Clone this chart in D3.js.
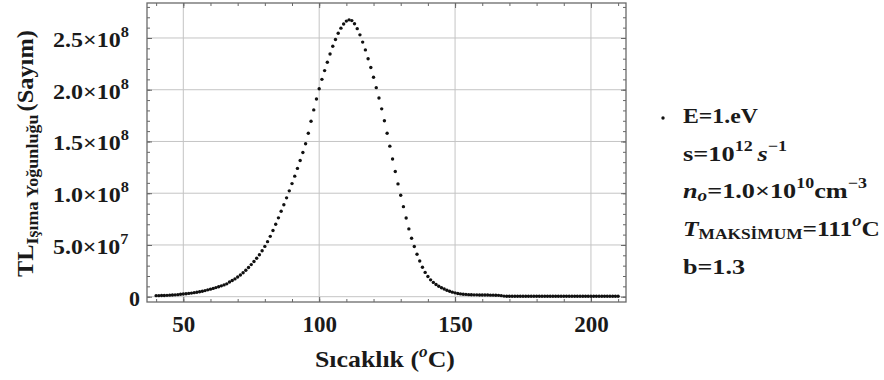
<!DOCTYPE html>
<html><head><meta charset="utf-8">
<script src="https://cdn.jsdelivr.net/npm/d3@7"></script>
<style>
body{margin:0;background:#fff}
svg text{font-family:"Liberation Serif","Times New Roman",Times,serif !important;font-weight:bold;fill:#1a1a1a}
</style>
</head><body><svg id="c" width="884" height="380"></svg>
<script>
// Temperatures (°C)
const temperatures = [
40,41,42,43,44,45,46,47,48,49,50,51,52,53,54,55,56,57,58,59,
60,61,62,63,64,65,66,67,68,69,70,71,72,73,74,75,76,77,78,79,
80,81,82,83,84,85,86,87,88,89,90,91,92,93,94,95,96,97,98,99,
100,101,102,103,104,105,106,107,108,109,110,111,112,113,114,115,116,117,118,119,
120,121,122,123,124,125,126,127,128,129,130,131,132,133,134,135,136,137,138,139,
140,141,142,143,144,145,146,147,148,149,150,151,152,153,154,155,156,157,158,159,
160,161,162,163,164,165,166,167,168,169,170,171,172,173,174,175,176,177,178,179,
180,181,182,183,184,185,186,187,188,189,190,191,192,193,194,195,196,197,198,199,
200,201,202,203,204,205,206,207,208,209,210];
// TL intensity (counts, in millions)
const tlIntensityMillions = [
1.0,1.0,1.1,1.2,1.3,1.5,1.6,1.8,2.0,2.3,2.6,2.9,3.2,3.5,3.9,4.3,4.8,5.3,5.9,6.6,
7.3,8.0,8.8,9.6,10.5,11.4,12.4,14.2,15.6,17.2,19.0,21.0,23.2,25.6,28.2,31.0,34.0,37.2,40.6,44.4,
48.6,53.2,58.3,64.0,70.0,76.2,82.5,88.9,95.5,102.3,109.3,116.5,124.0,131.6,139.4,147.8,158.0,169.5,180.5,191.0,
201.0,210.0,218.5,226.5,234.5,242.0,248.5,254.5,259.5,263.5,266.3,267.5,266.8,263.8,259.0,253.0,246.0,238.5,230.0,221.5,
212.0,202.0,192.0,181.5,170.0,158.0,145.5,133.0,121.0,109.0,98.0,87.0,76.0,65.5,56.5,48.5,41.0,34.5,28.5,23.5,
19.5,16.3,13.8,11.8,10.1,8.7,7.4,6.3,5.3,4.4,3.7,3.1,2.7,2.4,2.2,2.0,1.9,1.8,1.8,1.7,
1.7,1.6,1.6,1.5,1.5,1.4,1.3,1.0,0.6,0.5,0.4,0.4,0.4,0.4,0.4,0.4,0.4,0.4,0.4,0.4,
0.4,0.4,0.4,0.4,0.4,0.4,0.4,0.4,0.4,0.4,0.4,0.4,0.4,0.4,0.4,0.4,0.4,0.4,0.4,0.4,
0.4,0.4,0.4,0.4,0.4,0.4,0.4,0.4,0.4,0.4,0.4];
const xTickValues = [50,100,150,200];
const xTickLabels = ["50","100","150","200"];
const xMinorTicks = [40,50,60,70,80,90,100,110,120,130,140,150,160,170,180,190,200,210];
const yTickValues = [0,5e7,1e8,1.5e8,2e8,2.5e8];
const yTickMantissas = ["0","5.0","1.0","1.5","2.0","2.5"];
const yTickExponents = ["","7","8","8","8","8"];
const yMinorTicks = [0,1e7,2e7,3e7,4e7,5e7,6e7,7e7,8e7,9e7,1e8,1.1e8,1.2e8,1.3e8,1.4e8,1.5e8,1.6e8,1.7e8,1.8e8,1.9e8,2e8,2.1e8,2.2e8,2.3e8,2.4e8,2.5e8,2.6e8,2.7e8,2.8e8];

const FONT = '"Liberation Serif","Times New Roman",Times,serif';
const data = temperatures.map((t,i)=>({t, v: tlIntensityMillions[i]*1e6}));

const svg = d3.select("#c").attr("font-family",FONT);
const L=147, R=626, T=3, B=302;
const x = d3.scaleLinear().domain([36.64,212.9]).range([L,R]);
const y = d3.scaleLinear().domain([-5.12e6,2.838e8]).range([B,T]);

// stretch a text horizontally so that it spans [left, left+width]
function fitX(sel, left, width){
  const b = sel.node().getBBox();
  sel.attr("transform",`translate(${left},0) scale(${width/b.width},1) translate(${-b.x},0)`);
}

// grid
const g = svg.append("g");
g.selectAll(".gx").data(xTickValues).join("line")
  .attr("x1",d=>x(d)).attr("x2",d=>x(d)).attr("y1",T).attr("y2",B)
  .attr("stroke","#c4c4c4").attr("stroke-width",1);
g.selectAll(".gy").data(yTickValues).join("line")
  .attr("x1",L).attr("x2",R).attr("y1",d=>y(d)).attr("y2",d=>y(d))
  .attr("stroke","#c4c4c4").attr("stroke-width",1);

// frame ticks (inward)
function frameTicks(axisFn, pos, vals, size){
  const a = axisFn.tickValues(vals).tickSize(size).tickFormat("");
  const sel = svg.append("g").attr("transform",pos).call(a);
  sel.select(".domain").remove();
  sel.selectAll("line").attr("stroke","#666").attr("stroke-width",1);
}
frameTicks(d3.axisTop(x), `translate(0,${B})`, xMinorTicks, 3);
frameTicks(d3.axisTop(x), `translate(0,${B})`, xTickValues, 5);
frameTicks(d3.axisBottom(x), `translate(0,${T})`, xMinorTicks, 3);
frameTicks(d3.axisBottom(x), `translate(0,${T})`, xTickValues, 5);
frameTicks(d3.axisRight(y), `translate(${L},0)`, yMinorTicks, 3);
frameTicks(d3.axisRight(y), `translate(${L},0)`, yTickValues, 5);
frameTicks(d3.axisLeft(y), `translate(${R},0)`, yMinorTicks, 3);
frameTicks(d3.axisLeft(y), `translate(${R},0)`, yTickValues, 5);

svg.append("rect").attr("x",L).attr("y",T).attr("width",R-L).attr("height",B-T)
  .attr("fill","none").attr("stroke","#6a6a6a").attr("stroke-width",1.3);

// points
svg.append("g").selectAll("circle").data(data).join("circle")
  .attr("cx",d=>x(d.t)).attr("cy",d=>y(d.v)).attr("r",1.7).attr("fill","#111");

// x labels
const xa = svg.append("g").attr("transform",`translate(0,${B})`)
  .call(d3.axisBottom(x).tickValues(xTickValues).tickSize(0).tickPadding(0)
    .tickFormat((d,i)=>xTickLabels[i]));
xa.attr("font-family",FONT).select(".domain").remove();
xa.selectAll("text").attr("y",30).attr("dy",0).attr("font-size",23).attr("fill","#1a1a1a");

// y labels
const ya = svg.append("g").attr("transform",`translate(${L},0)`)
  .call(d3.axisLeft(y).tickValues(yTickValues).tickSize(0).tickPadding(0).tickFormat(""));
ya.attr("font-family",FONT).select(".domain").remove();
ya.selectAll(".tick text").each(function(d,i){
  const t = d3.select(this).attr("dy",null).attr("y",8.5).attr("font-size",22).attr("fill","#1a1a1a");
  if(yTickExponents[i]===""){
    t.attr("x",-7).text(yTickMantissas[i]);
  } else {
    t.attr("x",0).attr("text-anchor","start").text(null);
    t.append("tspan").text(yTickMantissas[i]+"\u00D7"+"10");
    t.append("tspan").attr("dy",-10).attr("font-size",15).text(yTickExponents[i]);
    fitX(t, 53-L, 76);
  }
});

// axis titles
const xt = svg.append("text").attr("x",0).attr("y",367).attr("font-size",24);
xt.append("tspan").text("Sıcaklık (");
xt.append("tspan").attr("font-style","italic").attr("font-size",16).attr("dy",-10).text("o");
xt.append("tspan").attr("dy",10).text("C)");
fitX(xt, 315, 140);

const yt = svg.append("text").attr("x",0).attr("y",0).attr("font-size",23);
yt.append("tspan").text("TL");
yt.append("tspan").attr("font-size",17).attr("dy",5).text("Işıma Yoğunluğu");
yt.append("tspan").attr("dy",-5).attr("dx",3).text("(Sayım)");
{
  const b = yt.node().getBBox();
  yt.attr("transform",`translate(33,153.5) rotate(-90) scale(${247/b.width},1) translate(${-(b.x+b.width/2)},0)`);
}

// legend
svg.append("circle").attr("cx",663).attr("cy",118).attr("r",1.7).attr("fill","#111");
const lg = svg.append("g").attr("font-size",22);
const lx=683;
const l1 = lg.append("text").attr("x",0).attr("y",123).text("E=1.eV");
fitX(l1, lx, 75);
const l2 = lg.append("text").attr("x",0).attr("y",161);
l2.append("tspan").text("s=10");
l2.append("tspan").attr("font-size",15).attr("dy",-10).text("12");
l2.append("tspan").attr("dy",10).attr("font-style","italic").attr("dx",4).text("s");
l2.append("tspan").attr("font-size",15).attr("dy",-10).text("\u22121");
fitX(l2, lx, 104);
const l3 = lg.append("text").attr("x",0).attr("y",198);
l3.append("tspan").attr("font-style","italic").text("n");
l3.append("tspan").attr("font-style","italic").attr("font-size",16).attr("dy",3).text("o");
l3.append("tspan").attr("dy",-3).text("=1.0\u00D710");
l3.append("tspan").attr("font-size",15).attr("dy",-10).text("10");
l3.append("tspan").attr("dy",10).text("cm");
l3.append("tspan").attr("font-size",15).attr("dy",-10).text("\u22123");
fitX(l3, lx, 184);
const l4 = lg.append("text").attr("x",0).attr("y",236);
l4.append("tspan").attr("font-style","italic").text("T");
l4.append("tspan").attr("font-size",15).attr("dy",3).text("MAKSİMUM");
l4.append("tspan").attr("dy",-3).text("=111");
l4.append("tspan").attr("font-size",16).attr("font-style","italic").attr("dy",-10).text("o");
l4.append("tspan").attr("dy",10).text("C");
fitX(l4, lx, 197);
const l5 = lg.append("text").attr("x",0).attr("y",274).text("b=1.3");
fitX(l5, lx, 62);
</script>
</body></html>
